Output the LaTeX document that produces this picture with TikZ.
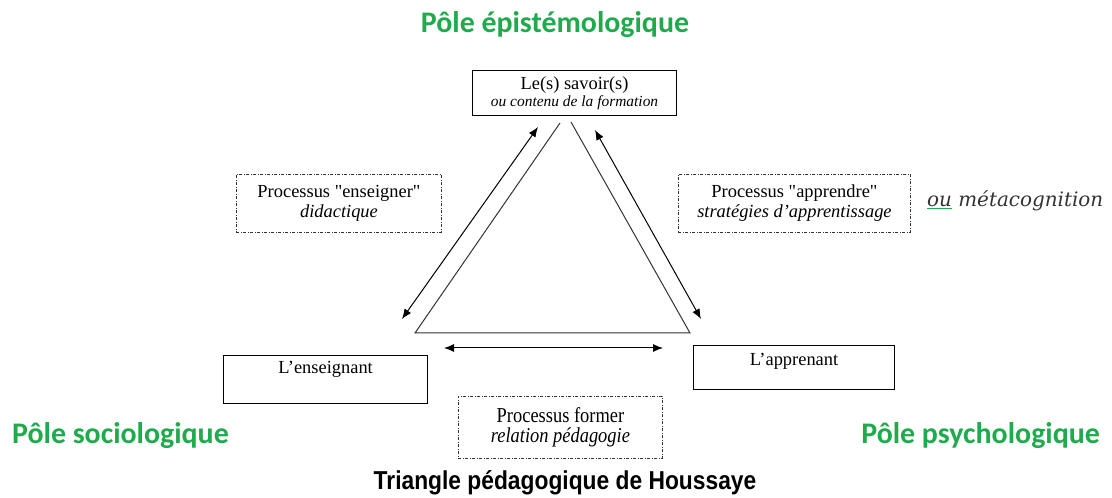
\documentclass[tikz,border=0pt]{standalone}
\usepackage{fontspec}
\setmainfont{Liberation Serif}
\newfontfamily\poleFont{Carlito}
\newfontfamily\titleFont{Liberation Sans}
\newfontfamily\metaFont{DejaVu Serif}
\usetikzlibrary{arrows.meta, positioning}
\definecolor{poleGreen}{HTML}{1FAA4C}
\definecolor{lineGrey}{HTML}{333333}

\begin{document}
\begin{tikzpicture}[x=1bp, y=-1bp,
    box/.style={draw=black, line width=1.1bp, align=center, inner sep=0pt, font=\fontsize{18.5}{20}\selectfont},
    procbox/.style={draw=lineGrey, line width=0.9bp, dash pattern=on 3bp off 1.5bp on 1bp off 1.5bp, align=center, inner sep=0pt, font=\fontsize{18.5}{20}\selectfont},
    pole/.style={text=poleGreen, font=\poleFont\bfseries\fontsize{30}{30}\selectfont, inner sep=0pt},
    side/.style={draw=lineGrey, line width=1bp},
    flow/.style={draw=black, line width=1bp, {Latex[length=10bp,width=8bp]}-{Latex[length=10bp,width=8bp]}}]
    \useasboundingbox (0,0) rectangle (1112,498);
    \node[box, minimum width=204bp, minimum height=45bp, anchor=north west] (savoir) at (472,70) {Le(s) savoir(s)\\[-3bp]{\itshape\fontsize{15.5}{16}\selectfont ou contenu de la formation}};
    \node[box, minimum width=204bp, text height=13bp, text depth=25bp, inner ysep=5bp, anchor=north west] (enseignant) at (223,355) {L’enseignant};
    \node[box, minimum width=201bp, text height=14bp, text depth=18bp, inner ysep=6bp, anchor=north west] (apprenant) at (693,345) {L’apprenant};
    \node[procbox, minimum width=205bp, minimum height=58bp, anchor=north west] (enseigner) at (236,174) {Processus \textquotedbl enseigner\textquotedbl\\\textit{didactique}};
    \node[procbox, minimum width=232bp, minimum height=58bp, anchor=north west] (apprendre) at (678,174) {Processus \textquotedbl apprendre\textquotedbl\\\textit{stratégies d'apprentissage}};
    \node[procbox, minimum width=204bp, minimum height=62bp, anchor=north west] (former) at (458,396) {\scalebox{1}[1.15]{Processus former}\\\scalebox{1}[1.15]{\textit{relation pédagogie}}};
    \coordinate (apexL) at (560,123);
    \coordinate (apexR) at (571,122);
    \coordinate (cornerL) at (415,333);
    \coordinate (cornerR) at (690,333);
    \draw[side] (apexL) -- (cornerL) -- (cornerR) -- (apexR);
    \coordinate (ensTop) at (538,127);
    \coordinate (ensBot) at (402,319);
    \coordinate (appTop) at (595,130);
    \coordinate (appBot) at (701,319);
    \coordinate (formL) at (444,348);
    \coordinate (formR) at (663,348);
    \foreach \a/\b in {ensTop/ensBot, appTop/appBot, formL/formR} \draw[flow] (\a) -- (\b);
    \node[pole, anchor=base] (epist) at (555,33) {Pôle épistémologique};
    \node[pole, anchor=base west] (socio) at (12,443) {Pôle sociologique};
    \node[pole, anchor=base east] (psycho) at (1100,443) {Pôle psychologique};
    \node[anchor=base west, inner sep=0pt, text=lineGrey, font=\metaFont\itshape\fontsize{20}{20}\selectfont] (meta) at (927,207) {\rlap{\textcolor{poleGreen}{\underline{\phantom{ou}}}}ou métacognition};
    \node[anchor=base, inner sep=0pt, font=\titleFont\bfseries\fontsize{26}{26}\selectfont] (title) at (565,489) {\scalebox{0.88}[1]{Triangle pédagogique de Houssaye}};
\end{tikzpicture}
\end{document}
